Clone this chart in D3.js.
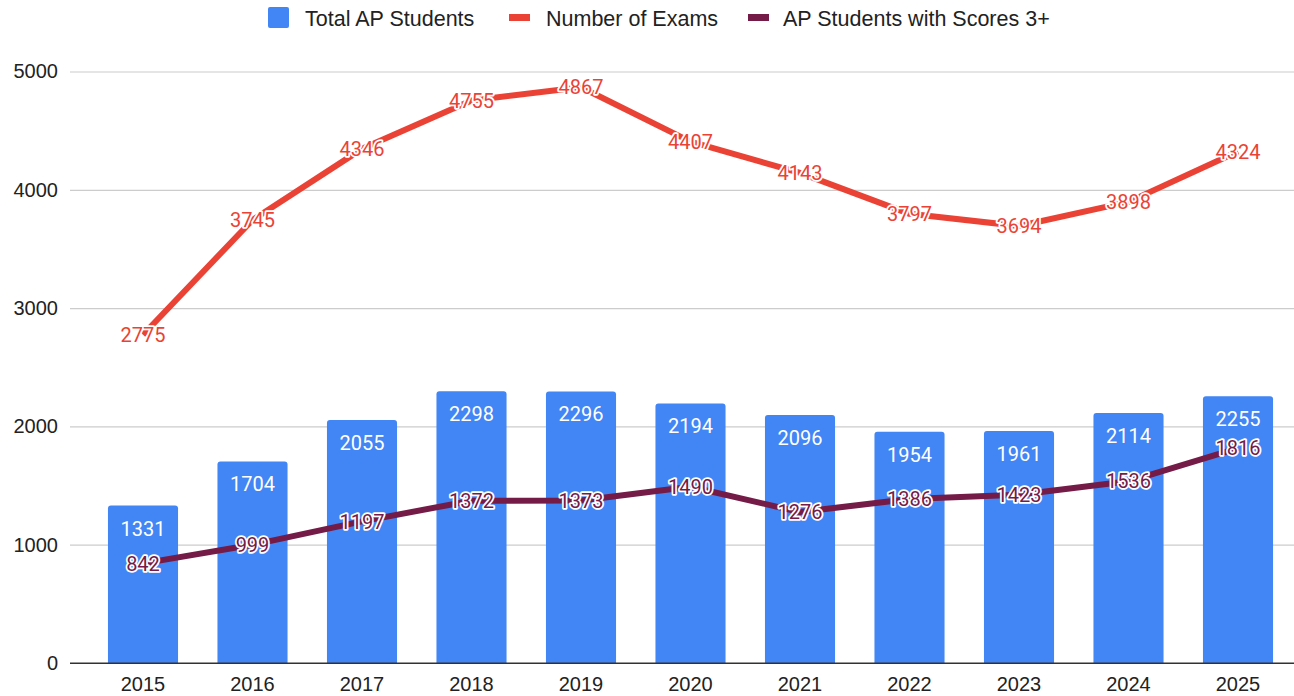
<!DOCTYPE html>
<html>
<head>
<meta charset="utf-8">
<script src="https://cdn.jsdelivr.net/npm/d3@7"></script>
<style>
  body { margin: 0; background: #fff; }
  svg { display: block; }
</style>
</head>
<body>
<div id="chart"></div>
<script>
// chart data
const years = ["2015", "2016", "2017", "2018", "2019", "2020", "2021", "2022", "2023", "2024", "2025"]
const totalStudents = [1331, 1704, 2055, 2298, 2296, 2194, 2096, 1954, 1961, 2114, 2255]
const numExams = [2775, 3745, 4346, 4755, 4867, 4407, 4143, 3797, 3694, 3898, 4324]
const scores3plus = [842, 999, 1197, 1372, 1373, 1490, 1276, 1386, 1423, 1536, 1816]
const yTicks = [0, 1000, 2000, 3000, 4000, 5000]

const W = 1294, H = 696
const blue = "#4285f4", red = "#ea4335", purple = "#741b47"

const svg = d3.select("#chart")
    .append("svg")
    .attr("width", W)
    .attr("height", H)

// scales
const x = d3.scaleBand()
    .domain(years)
    .range([88.25, 1292.75])
    .paddingInner(0.36)
    .paddingOuter(0.18)
const y = d3.scaleLinear()
    .domain([0, 5000])
    .range([663, 71.5])

const cx = d => x(d) + x.bandwidth() / 2

// grid lines + y axis labels
const yAxis = svg.append("g")
    .attr("transform", "translate(70,0)")
    .call(d3.axisLeft(y).tickValues(yTicks).tickFormat(d3.format("d")).tickSize(-(W - 70)).tickPadding(12))
yAxis.select(".domain").remove()
yAxis.selectAll(".tick line")
    .attr("stroke", d => d === 0 ? "#333" : "#ccc")
    .attr("stroke-width", 1.2)
yAxis.selectAll(".tick text")
    .attr("font-family", "Arial, 'Liberation Sans', sans-serif")
    .attr("font-size", 20)
    .attr("fill", "#222")

// bars with rounded top corners
const r = 3
svg.append("g")
    .selectAll("path")
    .data(years)
    .join("path")
    .attr("fill", blue)
    .attr("d", (d, i) => {
        const x0 = x(d), w = x.bandwidth(), y0 = y(totalStudents[i]), yb = y(0)
        return `M${x0},${yb}V${y0 + r}Q${x0},${y0} ${x0 + r},${y0}H${x0 + w - r}Q${x0 + w},${y0} ${x0 + w},${y0 + r}V${yb}Z`
    })

// bar value labels
svg.append("g")
    .selectAll("text")
    .data(years)
    .join("text")
    .attr("x", d => cx(d))
    .attr("y", (d, i) => y(totalStudents[i]) + 30)
    .attr("text-anchor", "middle")
    .attr("font-family", "Roboto, sans-serif")
    .attr("font-size", 20)
    .attr("fill", "#fff")
    .text((d, i) => totalStudents[i])

// redraw baseline on top of bars
svg.append("line")
    .attr("x1", 70).attr("x2", W)
    .attr("y1", y(0)).attr("y2", y(0))
    .attr("stroke", "#333")
    .attr("stroke-width", 1.2)

// x axis labels
svg.append("g")
    .selectAll("text")
    .data(years)
    .join("text")
    .attr("x", d => cx(d))
    .attr("y", 691)
    .attr("text-anchor", "middle")
    .attr("font-family", "Arial, 'Liberation Sans', sans-serif")
    .attr("font-size", 20)
    .attr("fill", "#222")
    .text(d => d)

// lines
const line = d3.line()
    .x((v, i) => cx(years[i]))
    .y(v => y(v))

function drawSeries(values, color) {
    svg.append("path")
        .datum(values)
        .attr("fill", "none")
        .attr("stroke", color)
        .attr("stroke-width", 6)
        .attr("stroke-linejoin", "round")
        .attr("d", line)
}
drawSeries(numExams, red)
drawSeries(scores3plus, purple)

// point labels with white halo
function drawLabels(values, color) {
    svg.append("g")
        .selectAll("text")
        .data(values)
        .join("text")
        .attr("x", (v, i) => cx(years[i]))
        .attr("y", v => y(v))
        .attr("dy", "0.36em")
        .attr("text-anchor", "middle")
        .attr("font-family", "Roboto, sans-serif")
        .attr("font-size", 20)
        .attr("fill", color)
        .attr("stroke", "#fff")
        .attr("stroke-width", 3.5)
        .attr("stroke-linejoin", "round")
        .attr("paint-order", "stroke")
        .text(v => v)
}
drawLabels(numExams, red)
drawLabels(scores3plus, purple)

// legend
const legend = svg.append("g")
    .attr("font-family", "Arial, 'Liberation Sans', sans-serif")
    .attr("font-size", 21.5)
    .attr("fill", "#222")

legend.append("rect")
    .attr("x", 268).attr("y", 7)
    .attr("width", 21).attr("height", 21)
    .attr("rx", 2)
    .attr("fill", blue)
legend.append("text").attr("x", 305).attr("y", 25.5).text("Total AP Students")

legend.append("rect")
    .attr("x", 509).attr("y", 14)
    .attr("width", 21).attr("height", 7)
    .attr("fill", red)
legend.append("text").attr("x", 546).attr("y", 25.5).text("Number of Exams")

legend.append("rect")
    .attr("x", 748).attr("y", 14)
    .attr("width", 21).attr("height", 7)
    .attr("fill", purple)
legend.append("text").attr("x", 783).attr("y", 25.5).text("AP Students with Scores 3+")
</script>
</body>
</html>
